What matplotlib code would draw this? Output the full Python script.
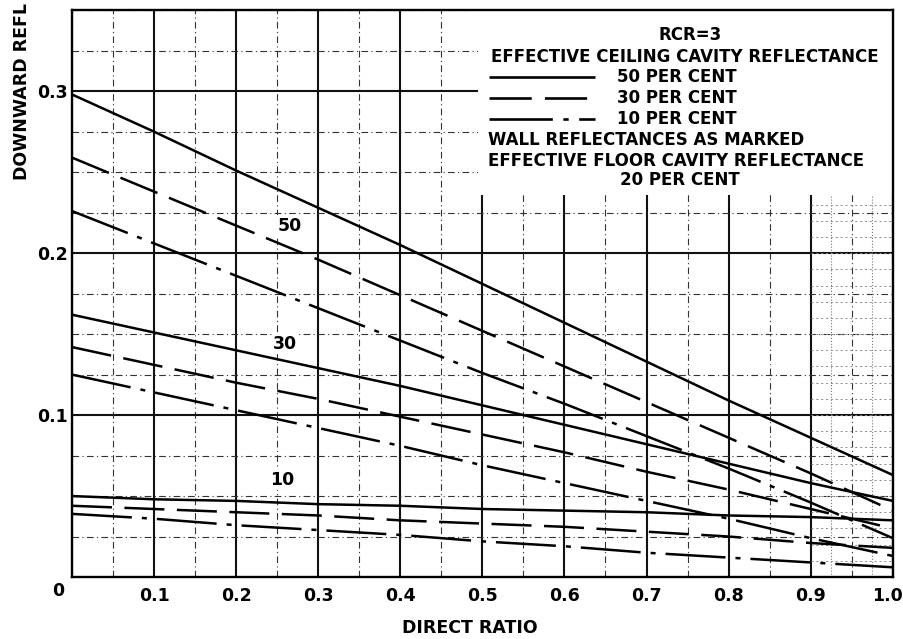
import numpy as np
import matplotlib
matplotlib.use("Agg")
import matplotlib.pyplot as plt
import matplotlib.transforms as mtransforms
from matplotlib.patches import Rectangle
from matplotlib.ticker import MultipleLocator

# direct ratio (x) and downward reflectance
direct_ratio = [0.0, 0.1, 0.2, 0.3, 0.4, 0.5, 0.6, 0.7, 0.8, 0.9, 1.0]

# wall 50 %
w50_c50 = [0.298, 0.275, 0.251, 0.228, 0.205, 0.181, 0.157, 0.133, 0.109, 0.086, 0.063]
w50_c30 = [0.259, 0.238, 0.217, 0.196, 0.174, 0.152, 0.130, 0.108, 0.086, 0.064, 0.041]
w50_c10 = [0.226, 0.206, 0.186, 0.166, 0.146, 0.126, 0.107, 0.087, 0.067, 0.046, 0.024]
# wall 30 %
w30_c50 = [0.162, 0.151, 0.140, 0.129, 0.118, 0.106, 0.094, 0.082, 0.070, 0.058, 0.047]
w30_c30 = [0.142, 0.131, 0.120, 0.110, 0.099, 0.088, 0.077, 0.065, 0.054, 0.042, 0.030]
w30_c10 = [0.125, 0.114, 0.103, 0.092, 0.081, 0.069, 0.058, 0.047, 0.036, 0.024, 0.013]
# wall 10 %
w10_c50 = [0.050, 0.048, 0.047, 0.045, 0.044, 0.042, 0.041, 0.040, 0.038, 0.037, 0.035]
w10_c30 = [0.044, 0.042, 0.040, 0.038, 0.035, 0.033, 0.031, 0.028, 0.025, 0.021, 0.018]
w10_c10 = [0.039, 0.036, 0.032, 0.029, 0.026, 0.022, 0.019, 0.015, 0.012, 0.009, 0.006]

wall_labels = ['50', '30', '10']
wall_label_pos = [(0.265, 0.217), (0.26, 0.144), (0.256, 0.060)]

x_ticks = [0.1, 0.2, 0.3, 0.4, 0.5, 0.6, 0.7, 0.8, 0.9, 1.0]
x_ticklabels = ['0.1', '0.2', '0.3', '0.4', '0.5', '0.6', '0.7', '0.8', '0.9', '1.0']
y_ticks = [0.1, 0.2, 0.3]
y_ticklabels = ['0.1', '0.2', '0.3']

legend_names = ['50 PER CENT', '30 PER CENT', '10 PER CENT']

SOLID = '-'
DASH = (0, (16, 5))
DASHDOT = (0, (24, 4, 2, 4))
styles = [SOLID, DASH, DASHDOT]

plt.rcParams['font.family'] = ['DejaVu Sans']
plt.rcParams['font.weight'] = 'bold'

fig = plt.figure(figsize=(9.04, 6.39), dpi=100)
ax = fig.add_axes([0.0796, 0.097, 0.908, 0.887])

groups = [[w50_c50, w50_c30, w50_c10],
          [w30_c50, w30_c30, w30_c10],
          [w10_c50, w10_c30, w10_c10]]
for grp in groups:
    for vals, ls in zip(grp, styles):
        ax.plot(direct_ratio, vals, color='black', lw=1.8, linestyle=ls,
                solid_capstyle='butt', zorder=3)

for lab, (lx, ly) in zip(wall_labels, wall_label_pos):
    ax.text(lx, ly, lab, fontsize=12.5, ha='center', va='center', zorder=4,
            bbox=dict(facecolor='white', edgecolor='none', pad=1))

ax.set_xlim(0, 1.0)
ax.set_ylim(0, 0.35)

# graph paper grid
ax.xaxis.set_major_locator(MultipleLocator(0.1))
ax.yaxis.set_major_locator(MultipleLocator(0.05))
ax.xaxis.set_minor_locator(MultipleLocator(0.05))
ax.yaxis.set_minor_locator(MultipleLocator(0.025))
ax.grid(which='major', color='#111111', lw=1.5)
ax.grid(which='minor', color='#333333', lw=0.8, linestyle=(0, (6, 3, 1, 3)))
# lighter dotted ruling in the right-hand strip
for xv in [0.925, 0.975]:
    ax.plot([xv, xv], [0, 0.236], color='#777777', lw=0.8, ls=':', zorder=0.6)
for yv in np.arange(0.01, 0.236, 0.01):
    ax.plot([0.9, 1.0], [yv, yv], color='#888888', lw=0.7, ls=(0, (2, 3)), zorder=0.6)
ax.set_axisbelow(True)

ax.tick_params(which='both', length=0)
ax.set_xticks(x_ticks)
ax.set_xticklabels(x_ticklabels, fontsize=12.5)
ax.set_yticks(y_ticks)
ax.set_yticklabels(y_ticklabels, fontsize=12.5)
ax.tick_params(axis='x', pad=7)
ax.tick_params(axis='y', pad=3)
last = ax.get_xticklabels()[-1]
last.set_transform(last.get_transform() +
                   mtransforms.ScaledTranslation(-0.05, 0, fig.dpi_scale_trans))
for s in ax.spines.values():
    s.set_linewidth(1.7)

fig.text(0.064, 0.075, '0', fontsize=12.5, ha='center', va='center')
fig.text(0.52, 0.017, 'DIRECT RATIO', fontsize=12.5, ha='center', va='center')
fig.text(0.024, 0.996, 'DOWNWARD REFL', fontsize=12.5, rotation=90,
         ha='center', va='top')

# legend block (white area over the grid)
ax.add_patch(Rectangle((0.495, 0.236), 0.505, 0.114, facecolor='white',
                       edgecolor='none', zorder=2))
fs = 12
ax.text(0.753, 0.335, 'RCR=3', fontsize=fs, ha='center', va='center', zorder=4)
ax.text(0.747, 0.321, 'EFFECTIVE CEILING CAVITY REFLECTANCE', fontsize=fs,
        ha='center', va='center', zorder=4)
for i, (name, ls) in enumerate(zip(legend_names, styles)):
    yy = 0.309 - i * 0.013
    ax.plot([0.508, 0.637], [yy, yy], color='black', lw=1.9, linestyle=ls,
            solid_capstyle='butt', zorder=4)
    ax.text(0.664, yy, name, fontsize=fs, ha='left', va='center', zorder=4)
ax.text(0.507, 0.270, 'WALL REFLECTANCES AS MARKED', fontsize=fs,
        ha='left', va='center', zorder=4)
ax.text(0.507, 0.257, 'EFFECTIVE FLOOR CAVITY REFLECTANCE', fontsize=fs,
        ha='left', va='center', zorder=4)
ax.text(0.741, 0.245, '20 PER CENT', fontsize=fs, ha='center', va='center', zorder=4)

fig.savefig('out.png', dpi=100)
